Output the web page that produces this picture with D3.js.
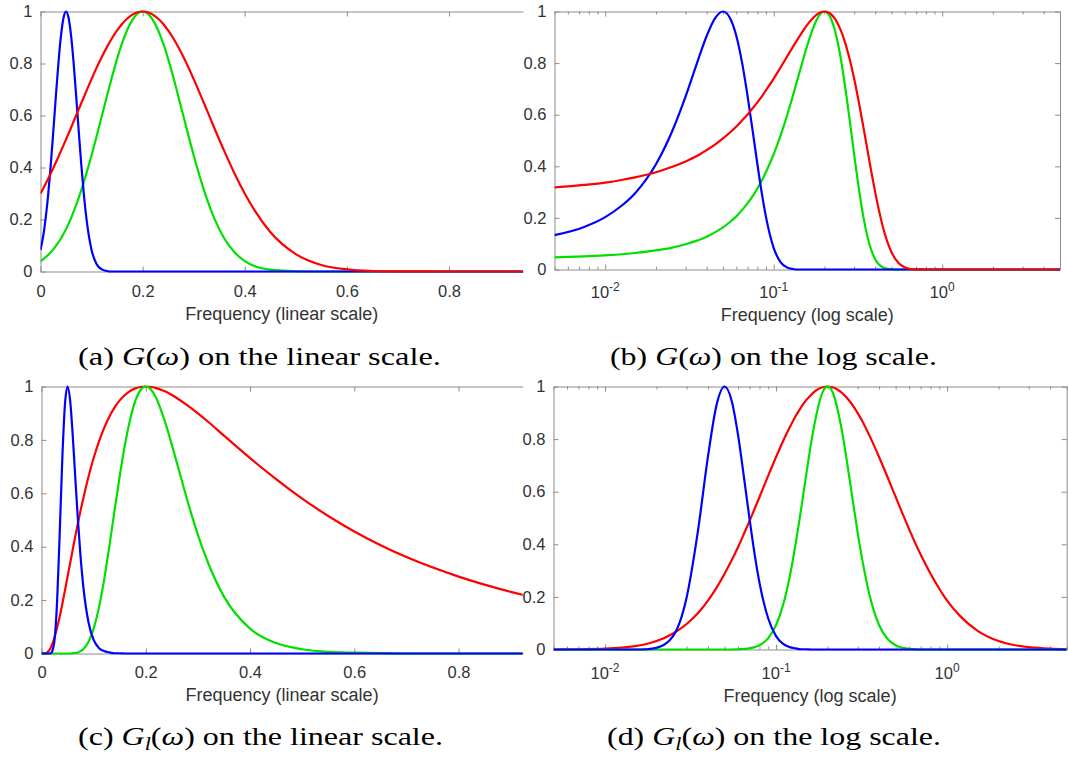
<!DOCTYPE html>
<html><head><meta charset="utf-8">
<script src="https://cdn.jsdelivr.net/npm/d3@7/dist/d3.min.js"></script>
<style>
body{margin:0;background:#fff}
svg{display:block}
</style>
</head><body>
<svg id="chart" width="1068" height="761"></svg>
<script>
// ---------- data ----------
// G(omega): panels (a) and (b)
const freqG = [0, 0.005, 0.0075, 0.01, 0.0125, 0.015, 0.02, 0.025, 0.03, 0.035, 0.04, 0.045,
  0.05, 0.055, 0.06, 0.065, 0.07, 0.075, 0.08, 0.085, 0.09, 0.1, 0.11, 0.12, 0.13, 0.14, 0.15,
  0.16, 0.17, 0.18, 0.19, 0.2, 0.21, 0.22, 0.23, 0.24, 0.25, 0.26, 0.28, 0.3, 0.32, 0.34, 0.36,
  0.38, 0.4, 0.42, 0.45, 0.5, 0.55, 0.6, 0.65, 0.7, 0.8, 0.95, 1.5, 5];
const gBlue = [0.083, 0.133, 0.165, 0.203, 0.247, 0.295, 0.408, 0.537, 0.671, 0.799, 0.905, 0.975,
  1, 0.975, 0.905, 0.799, 0.671, 0.537, 0.408, 0.295, 0.203, 0.083, 0.028, 0.008, 0.002, 0, 0,
  0, 0, 0, 0, 0, 0, 0, 0, 0, 0, 0, 0, 0, 0, 0, 0, 0, 0, 0, 0, 0, 0, 0, 0, 0, 0, 0, 0, 0];
const gGreen = [0.040, 0.047, 0.051, 0.055, 0.059, 0.064, 0.074, 0.085, 0.098, 0.112, 0.127, 0.145,
  0.163, 0.184, 0.206, 0.231, 0.257, 0.284, 0.314, 0.345, 0.378, 0.447, 0.521, 0.597, 0.674, 0.748, 0.818,
  0.879, 0.930, 0.968, 0.992, 1, 0.992, 0.968, 0.930, 0.879, 0.818, 0.748, 0.597, 0.447, 0.314, 0.206, 0.127,
  0.074, 0.040, 0.020, 0.007, 0.001, 0, 0, 0, 0, 0, 0, 0, 0];
const gRed = [0.300, 0.318, 0.328, 0.337, 0.347, 0.357, 0.377, 0.398, 0.419, 0.440, 0.463, 0.485,
  0.508, 0.531, 0.554, 0.578, 0.601, 0.625, 0.648, 0.671, 0.695, 0.740, 0.784, 0.825, 0.863, 0.897, 0.927,
  0.953, 0.973, 0.988, 0.997, 1, 0.997, 0.988, 0.973, 0.953, 0.927, 0.897, 0.825, 0.740, 0.648, 0.554, 0.463,
  0.377, 0.300, 0.233, 0.152, 0.067, 0.025, 0.008, 0.002, 0.0005, 0, 0, 0, 0];

// G_l(omega): panels (c) and (d)
const freqGl = [0, 0.005, 0.0075, 0.01, 0.0125, 0.015, 0.0175, 0.02, 0.025, 0.03, 0.035, 0.04, 0.045,
  0.05, 0.055, 0.06, 0.065, 0.07, 0.075, 0.08, 0.09, 0.1, 0.11, 0.12, 0.13, 0.14, 0.15, 0.16, 0.17,
  0.18, 0.19, 0.2, 0.21, 0.22, 0.23, 0.24, 0.25, 0.26, 0.28, 0.3, 0.32, 0.35, 0.4, 0.45, 0.5, 0.55,
  0.6, 0.7, 0.8, 0.9, 0.95, 1.0, 1.2, 1.5, 2, 2.5, 3, 4, 5];
const glBlue = [0, 0, 0, 0, 0, 0, 0.001, 0.006, 0.051, 0.198, 0.454, 0.734, 0.933,
  1, 0.946, 0.814, 0.652, 0.496, 0.361, 0.254, 0.118, 0.051, 0.021, 0.009, 0.004, 0.001, 0.001, 0, 0,
  0, 0, 0, 0, 0, 0, 0, 0, 0, 0, 0, 0, 0, 0, 0, 0, 0,
  0, 0, 0, 0, 0, 0, 0, 0, 0, 0, 0, 0, 0];
const glGreen = [0, 0, 0, 0, 0, 0, 0, 0, 0, 0, 0, 0, 0,
  0, 0, 0.001, 0.002, 0.004, 0.009, 0.016, 0.043, 0.093, 0.170, 0.275, 0.400, 0.533, 0.664, 0.782, 0.876,
  0.946, 0.987, 1, 0.989, 0.957, 0.907, 0.849, 0.782, 0.712, 0.572, 0.444, 0.337, 0.213, 0.093, 0.039, 0.016, 0.006,
  0.003, 0, 0, 0, 0, 0, 0, 0, 0, 0, 0, 0, 0];
const glRed = [0, 0, 0.001, 0.003, 0.007, 0.013, 0.021, 0.032, 0.061, 0.097, 0.139, 0.186, 0.236,
  0.288, 0.339, 0.390, 0.441, 0.489, 0.536, 0.580, 0.661, 0.732, 0.793, 0.844, 0.887, 0.921, 0.948, 0.968, 0.983,
  0.993, 0.998, 1, 0.998, 0.994, 0.987, 0.979, 0.968, 0.956, 0.929, 0.899, 0.867, 0.816, 0.732, 0.653, 0.580, 0.515,
  0.457, 0.361, 0.288, 0.231, 0.207, 0.186, 0.125, 0.072, 0.032, 0.016, 0.009, 0.003, 0.001];

// ticks and labels
const yTicks = [0, 0.2, 0.4, 0.6, 0.8, 1];
const yTickLabels = ["0", "0.2", "0.4", "0.6", "0.8", "1"];
const linTicks = [0, 0.2, 0.4, 0.6, 0.8];
const linTickLabels = ["0", "0.2", "0.4", "0.6", "0.8"];
const logTicks = [0.01, 0.1, 1];
const logTickExponents = ["-2", "-1", "0"];
const axisTitles = ["Frequency (linear scale)", "Frequency (log scale)", "Frequency (linear scale)", "Frequency (log scale)"];
const captionTags = ["(a)", "(b)", "(c)", "(d)"];
const captionSubs = ["", "", "l", "l"];
const captionTails = [" on the linear scale.", " on the log scale.", " on the linear scale.", " on the log scale."];

// ---------- styles / layout ----------
const RED = "#ff0000", GREEN = "#00e000", BLUE = "#0000ff";
const AXIS = "#8c8c8c", TEXT = "#333333";
const SANS = "'Liberation Sans', Arial, Helvetica, sans-serif";
const SERIF = "'Liberation Serif', 'Times New Roman', serif";

const panels = [
  {type: "lin", domain: [0, 0.945], left: 40.5, right: 523, top: 11.5, bottom: 271.5, rightLine: false,
   freq: freqG, series: [[gGreen, GREEN], [gBlue, BLUE], [gRed, RED]],
   tickY: 291, titleY: 319.5, cap: {x: 78, y: 365, w: 363}},
  {type: "log", domain: [0.005, 5], left: 554.5, right: 1060, top: 11.5, bottom: 269.5, rightLine: true,
   freq: freqG, series: [[gGreen, GREEN], [gBlue, BLUE], [gRed, RED]],
   tickY: 292, titleY: 321, cap: {x: 610, y: 365, w: 327}},
  {type: "lin", domain: [0, 0.923], left: 41.5, right: 522.7, top: 386.5, bottom: 653.5, rightLine: false,
   freq: freqGl, series: [[glRed, RED], [glGreen, GREEN], [glBlue, BLUE]],
   tickY: 672, titleY: 701, cap: {x: 78, y: 745, w: 365}},
  {type: "log", domain: [0.005, 5], left: 553.5, right: 1066.7, top: 386.5, bottom: 649.5, rightLine: true,
   freq: freqGl, series: [[glRed, RED], [glGreen, GREEN], [glBlue, BLUE]],
   tickY: 673, titleY: 702, cap: {x: 607, y: 745, w: 334}}
];

const svg = d3.select("#chart");
svg.append("rect").attr("width", 1068).attr("height", 761).attr("fill", "#fff");

function minorLogTicks(domain) {
  const out = [];
  for (let e = -3; e <= 1; e++) {
    for (let m = 2; m <= 9; m++) {
      const v = m * Math.pow(10, e);
      if (v >= domain[0] * 0.999 && v <= domain[1] * 1.001) out.push(v);
    }
  }
  return out;
}

function styleAxis(g) {
  g.selectAll("path.domain").attr("stroke", AXIS).attr("stroke-width", 1);
  g.selectAll(".tick line").attr("stroke", AXIS).attr("stroke-width", 1);
  g.selectAll("text").attr("fill", TEXT).attr("font-family", SANS).attr("font-size", 16.5);
}

panels.forEach((p, i) => {
  const x = (p.type === "lin" ? d3.scaleLinear() : d3.scaleLog()).domain(p.domain).range([p.left, p.right]);
  const y = d3.scaleLinear().domain([0, 1]).range([p.bottom, p.top]);
  const g = svg.append("g");

  const clipId = "clip" + i;
  svg.append("clipPath").attr("id", clipId).append("rect")
    .attr("x", p.left).attr("y", p.top - 3)
    .attr("width", p.right - p.left).attr("height", p.bottom - p.top + 6);

  // top axis (box)
  const topAx = (p.type === "lin" ? d3.axisTop(x).tickValues(linTicks) : d3.axisTop(x).tickValues(logTicks))
    .tickSize(-5).tickSizeOuter(0).tickFormat("");
  g.append("g").attr("transform", `translate(0,${p.top})`).call(topAx).call(styleAxis);

  // right axis
  if (p.rightLine) {
    const rAx = d3.axisRight(y).tickValues(yTicks).tickSize(-5).tickSizeOuter(0).tickFormat("");
    g.append("g").attr("transform", `translate(${p.right},0)`).call(rAx).call(styleAxis);
  }

  // minor log ticks
  if (p.type === "log") {
    const minors = minorLogTicks(p.domain);
    g.append("g").attr("transform", `translate(0,${p.bottom})`)
      .call(d3.axisBottom(x).tickValues(minors).tickSize(-3).tickSizeOuter(0).tickFormat(""))
      .call(styleAxis).select("path.domain").remove();
    g.append("g").attr("transform", `translate(0,${p.top})`)
      .call(d3.axisTop(x).tickValues(minors).tickSize(-3).tickSizeOuter(0).tickFormat(""))
      .call(styleAxis).select("path.domain").remove();
  }

  // bottom axis
  let botAx;
  if (p.type === "lin") {
    botAx = d3.axisBottom(x).tickValues(linTicks).tickSize(-5).tickSizeOuter(0).tickPadding(0)
      .tickFormat((d, k) => linTickLabels[k]);
  } else {
    botAx = d3.axisBottom(x).tickValues(logTicks).tickSize(-5).tickSizeOuter(0).tickFormat("");
  }
  const bg = g.append("g").attr("transform", `translate(0,${p.bottom})`).call(botAx).call(styleAxis);
  if (p.type === "lin") {
    bg.selectAll("text").attr("y", p.tickY - p.bottom).attr("dy", "0.35em");
  } else {
    logTicks.forEach((v, k) => {
      const t = g.append("text").attr("x", x(v)).attr("y", p.tickY).attr("dy", "0.35em")
        .attr("text-anchor", "middle").attr("fill", TEXT).attr("font-family", SANS).attr("font-size", 16.5);
      t.append("tspan").text("10");
      t.append("tspan").attr("font-size", 12).attr("dy", "-0.55em").text(logTickExponents[k]);
    });
  }

  // left axis
  const lAx = d3.axisLeft(y).tickValues(yTicks).tickSize(-5).tickSizeOuter(0).tickPadding(8)
    .tickFormat((d, k) => yTickLabels[k]);
  g.append("g").attr("transform", `translate(${p.left},0)`).call(lAx).call(styleAxis);

  // curves
  const line = d3.line()
    .defined(d => p.type === "lin" || d[0] > 0)
    .x(d => x(d[0])).y(d => y(d[1]))
    .curve(d3.curveMonotoneX);
  const cg = g.append("g").attr("clip-path", `url(#${clipId})`);
  p.series.forEach(([vals, col]) => {
    const pts = p.freq.map((f, k) => [f, vals[k]]).filter(d => p.type === "lin" || d[0] > 0);
    cg.append("path").datum(pts).attr("d", line)
      .attr("fill", "none").attr("stroke", col).attr("stroke-width", 2.2)
      .attr("stroke-linejoin", "round");
  });

  // axis title
  g.append("text").attr("x", (p.left + p.right) / 2).attr("y", p.titleY)
    .attr("text-anchor", "middle").attr("fill", TEXT).attr("font-family", SANS).attr("font-size", 18)
    .text(axisTitles[i]);

  // caption
  const c = svg.append("text").attr("x", p.cap.x).attr("y", p.cap.y)
    .attr("font-family", SERIF).attr("font-size", 26).attr("fill", "#000")
    .attr("textLength", p.cap.w).attr("lengthAdjust", "spacingAndGlyphs");
  c.append("tspan").text(captionTags[i] + " ");
  c.append("tspan").attr("font-style", "italic").text("G");
  if (captionSubs[i]) {
    c.append("tspan").attr("font-style", "italic").attr("font-size", 18).attr("dy", 5).text(captionSubs[i]);
    c.append("tspan").attr("dy", -5).text("(");
  } else {
    c.append("tspan").text("(");
  }
  c.append("tspan").attr("font-style", "italic").text("\u03C9");
  c.append("tspan").text(")" + captionTails[i]);
});
</script>
</body></html>
